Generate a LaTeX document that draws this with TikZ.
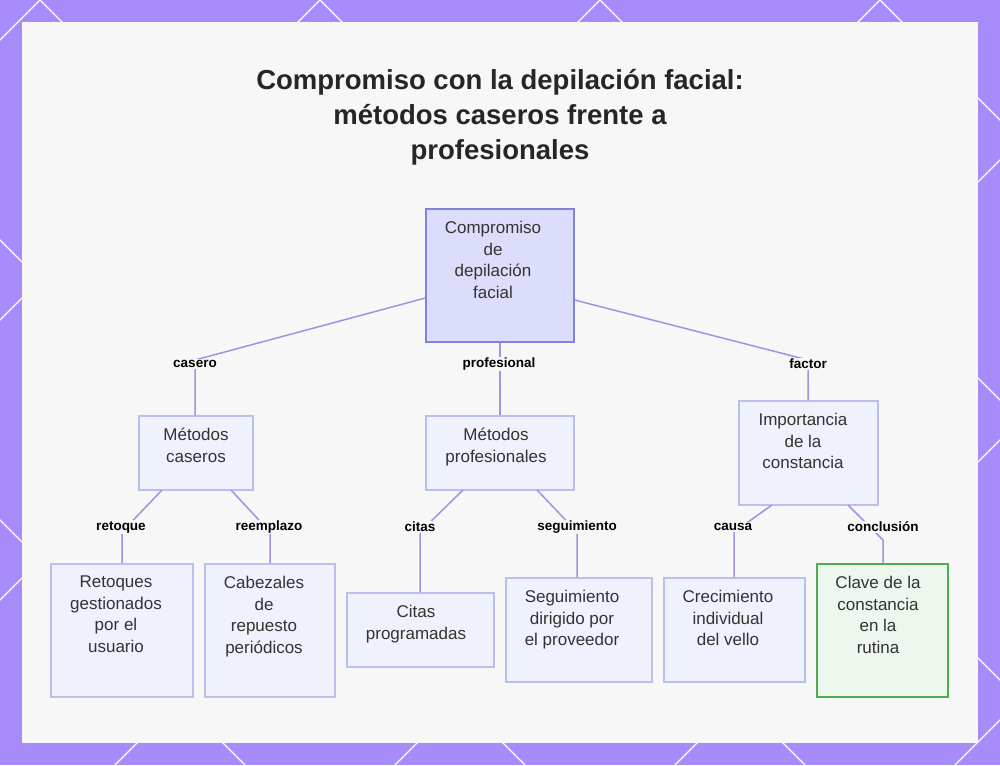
\documentclass[tikz,border=0pt]{standalone}
\usepackage{fontspec}
\setmainfont{Liberation Sans}
\definecolor{bgp}{HTML}{A78BFA}
\definecolor{edge}{HTML}{A98EE6}
\definecolor{rootf}{HTML}{DCDDFB}
\definecolor{rootd}{HTML}{7F84D8}
\definecolor{boxf}{HTML}{EFF1FC}
\definecolor{boxd}{HTML}{B9C0F0}
\definecolor{greenf}{HTML}{EEF7EE}
\definecolor{greend}{HTML}{4CAF50}
\definecolor{txt}{HTML}{333333}
\begin{document}
\begin{tikzpicture}[x=1pt,y=-1pt,
  box/.style={draw=boxd,fill=boxf,line width=1.2pt},
  tx/.style={anchor=north,align=center,font=\fontsize{17}{21.5}\selectfont,text=txt,inner sep=0pt,yshift=-4pt},
  lab/.style={font=\bfseries\fontsize{13.5}{15}\selectfont,text=black,fill=black!3,inner sep=1pt},
  conn/.style={draw=edge,line width=1.5pt}]
\useasboundingbox (0,0) rectangle (1000,765);
\fill[bgp] (0,0) rectangle (1000,765);
\begin{scope}
\clip (0,0) rectangle (1000,765);
\foreach \c in {-800,-520,...,1800}{
  \draw[white,line width=1.2pt] (\c,0) -- (\c+765,765);
  \draw[white,line width=1.2pt] (\c,0) -- (\c-765,765);
}
\end{scope}
\fill[black!3] (22,22) rectangle (978,743);
\node[font=\bfseries\fontsize{27.5}{35}\selectfont,align=center,text=black!85] (title) at (500,117) {Compromiso con la depilación facial:\\métodos caseros frente a\\profesionales};
\node[draw=rootd,fill=rootf,line width=1.2pt,minimum width=148pt,minimum height=133pt] (root) at (500,275.5) {};
\node[tx] (roott) at (493,217) {Compromiso\\de\\depilación\\facial};
\node[box,minimum width=114pt,minimum height=74pt] (mc) at (196,453) {};
\node[tx] (mct) at (196,424) {Métodos\\caseros};
\node[box,minimum width=148pt,minimum height=74pt] (mp) at (500,453) {};
\node[tx] (mpt) at (496,424) {Métodos\\profesionales};
\node[box,minimum width=139pt,minimum height=104pt] (ic) at (808.5,453) {};
\node[tx] (ict) at (803,409) {Importancia\\de la\\constancia};
\node[box,minimum width=142pt,minimum height=133pt] (rt) at (122,630.5) {};
\node[tx] (rtt) at (116,572) {Retoques\\gestionados\\por el\\usuario};
\node[box,minimum width=130pt,minimum height=133pt] (cb) at (270,630.5) {};
\node[tx] (cbt) at (264,572) {Cabezales\\de\\repuesto\\periódicos};
\node[box,minimum width=147pt,minimum height=74pt] (ci) at (420.5,630) {};
\node[tx] (cit) at (416,601) {Citas\\programadas};
\node[box,minimum width=146pt,minimum height=104pt] (sg) at (579,630) {};
\node[tx] (sgt) at (572,586) {Seguimiento\\dirigido por\\el proveedor};
\node[box,minimum width=141pt,minimum height=104pt] (cr) at (734.5,630) {};
\node[tx] (crt) at (728,586) {Crecimiento\\individual\\del vello};
\node[box,draw=greend,fill=greenf,minimum width=131pt,minimum height=133pt] (cl) at (882.5,630.5) {};
\node[tx] (clt) at (878,572) {Clave de la\\constancia\\en la\\rutina};
\coordinate (k1) at (195,360); \coordinate (k2) at (808,360);
\coordinate (k3) at (122,532); \coordinate (k4) at (270,532);
\coordinate (k5) at (420,532); \coordinate (k6) at (577,532);
\coordinate (k7) at (734,532); \coordinate (k8) at (883,540);
\draw[conn] (root.west|-0,298) -- (k1) -- (mc.north-|k1);
\draw[conn] (root.south) -- (mp.north);
\draw[conn] (root.east|-0,300) -- (k2) -- (ic.north-|k2);
\draw[conn] (162,490) -- (k3) -- (rt.north-|k3);
\draw[conn] (231,490) -- (k4) -- (cb.north-|k4);
\draw[conn] (463,490) -- (k5) -- (ci.north-|k5);
\draw[conn] (537,490) -- (k6) -- (sg.north-|k6);
\draw[conn] (772,505) -- (k7) -- (cr.north-|k7);
\draw[conn] (848,505) -- (k8) -- (cl.north-|k8);
\node[lab] (l1) at (195,364) {casero};
\node[lab] (l2) at (499,364) {profesional};
\node[lab] (l3) at (808,364) {factor};
\node[lab] (l4) at (121,527) {retoque};
\node[lab] (l5) at (269,527) {reemplazo};
\node[lab] (l6) at (420,527) {citas};
\node[lab] (l7) at (577,527) {seguimiento};
\node[lab] (l8) at (733,527) {causa};
\node[lab] (l9) at (883,527) {conclusión};
\end{tikzpicture}
\end{document}
